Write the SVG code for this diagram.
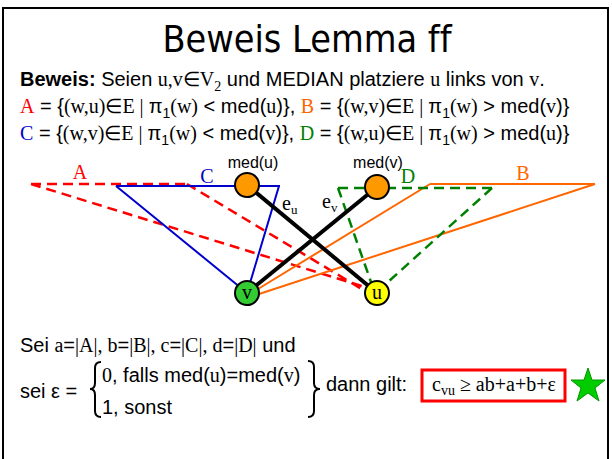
<svg xmlns="http://www.w3.org/2000/svg" width="612" height="459" viewBox="0 0 612 459">
<style>
.s{font-family:"Liberation Sans",Arial,sans-serif;font-size:20px;fill:#000}
.r{font-family:"Liberation Serif","Times New Roman",serif}
.lbl{font-family:"Liberation Serif","Times New Roman",serif;font-size:20px}
.ml{font-family:"Liberation Sans",Arial,sans-serif;font-size:16px;fill:#000}
.node{stroke:#000;stroke-width:2}
.red{stroke:#ff0000;stroke-width:2.5;stroke-dasharray:10,6;fill:none}
.blue{stroke:#0000cc;stroke-width:2;fill:none}
.orange{stroke:#ff6600;stroke-width:2;fill:none}
.green{stroke:#008000;stroke-width:2.5;stroke-dasharray:10,6;fill:none}
.black{stroke:#000;stroke-width:4}
.title{font-family:"DejaVu Sans",sans-serif;font-size:38px;font-variant-ligatures:none;font-feature-settings:"liga" 0}
</style>
<rect x="0" y="0" width="612" height="459" fill="#fff"/>
<path d="M3,470 V8 H608 V470" fill="none" stroke="#000" stroke-width="2"/>
<text class="title" x="307" y="52" text-anchor="middle" textLength="289" lengthAdjust="spacingAndGlyphs">Beweis Lemma ff</text>

<text class="s" x="20" y="86"><tspan font-weight="bold">Beweis:</tspan> Seien <tspan class="r">u,v∈V<tspan font-size="14" dy="5">2</tspan></tspan><tspan dy="-5"> und MEDIAN platziere </tspan><tspan class="r">u</tspan> links von <tspan class="r">v</tspan>.</text>
<text class="s" x="20" y="113"><tspan class="r" fill="#ff0000">A</tspan> = {<tspan class="r">(w,u)∈E | </tspan>π<tspan font-size="14" dy="5">1</tspan><tspan class="r" dy="-5">(w)</tspan> &lt; med(<tspan class="r">u</tspan>)}, <tspan class="r" fill="#ff6600">B</tspan> = {<tspan class="r">(w,v)∈E | </tspan>π<tspan font-size="14" dy="5">1</tspan><tspan class="r" dy="-5">(w)</tspan> &gt; med(<tspan class="r">v</tspan>)}</text>
<text class="s" x="20" y="140"><tspan class="r" fill="#0000cc">C</tspan> = {<tspan class="r">(w,v)∈E | </tspan>π<tspan font-size="14" dy="5">1</tspan><tspan class="r" dy="-5">(w)</tspan> &lt; med(<tspan class="r">v</tspan>)}, <tspan class="r" fill="#008000">D</tspan> = {<tspan class="r">(w,u)∈E | </tspan>π<tspan font-size="14" dy="5">1</tspan><tspan class="r" dy="-5">(w)</tspan> &gt; med(<tspan class="r">u</tspan>)}</text>

<g id="connectors">
<path class="red" d="M31,184 H187 M31,184 L365,287 M187,184 L365,291"/>
<path class="blue" d="M116,186 H280 M116,186 L241,288 M279,186 L250,283"/>
<path class="orange" d="M430,184 H595 M430,184 L258,289 M595,184 L259,294"/>
<path class="green" d="M338,188 H492 M338,188 L371,282 M492,188 L388,282"/>
<line class="black" x1="247" y1="185" x2="377" y2="293"/>
<line class="black" x1="377" y1="187" x2="247" y2="293"/>
</g>
<text class="lbl" x="80" y="179" text-anchor="middle" fill="#ff0000">A</text>
<text class="lbl" x="207" y="183" text-anchor="middle" fill="#0000cc">C</text>
<text class="lbl" x="523" y="180" text-anchor="middle" fill="#ff6600">B</text>
<text class="lbl" x="408" y="183" text-anchor="middle" fill="#008000">D</text>
<text class="lbl" x="282" y="210">e<tspan font-size="13" dy="4">u</tspan></text>
<text class="lbl" x="322" y="208">e<tspan font-size="13" dy="4">v</tspan></text>

<g id="med_u">
<circle class="node" cx="247" cy="185" r="12" fill="#ff9900"/>
<text class="ml" x="253" y="168" text-anchor="middle">med(u)</text>
</g>
<g id="med_v">
<circle class="node" cx="377" cy="187" r="12" fill="#ff9900"/>
<text class="ml" x="378" y="168" text-anchor="middle">med(v)</text>
</g>
<g id="v">
<circle class="node" cx="247" cy="293" r="12" fill="#33cc33"/>
<text class="lbl" x="247" y="299" text-anchor="middle">v</text>
</g>
<g id="u">
<circle class="node" cx="377" cy="293" r="12" fill="#ffff00"/>
<text class="lbl" x="377" y="299" text-anchor="middle">u</text>
</g>

<text class="s" x="20" y="352">Sei <tspan class="r">a</tspan>=<tspan class="r">|A|, b</tspan>=<tspan class="r">|B|, c</tspan>=<tspan class="r">|C|, d</tspan>=<tspan class="r">|D|</tspan> und</text>
<text class="s" x="20" y="398">sei ε =</text>
<path d="M101,362 Q95,362 95,368 L95,383 Q95,389 90,389 Q95,389 95,395 L95,411 Q95,417 101,417" fill="none" stroke="#000" stroke-width="2"/>
<text class="s" x="102" y="382"><tspan class="r">0</tspan>, falls med(<tspan class="r">u</tspan>)=med(<tspan class="r">v</tspan>)</text>
<text class="s" x="102" y="414">1, sonst</text>
<path d="M308,361 Q314,361 314,367 L314,383 Q314,389 320,389 Q314,389 314,395 L314,411 Q314,417 308,417" fill="none" stroke="#000" stroke-width="2"/>
<text class="s" x="326" y="391">dann gilt:</text>
<rect x="422" y="370" width="143" height="31" fill="none" stroke="#ff0000" stroke-width="3"/>
<text class="lbl" x="432" y="391">c<tspan font-size="14" dy="4">vu</tspan><tspan dy="-4"> ≥ ab+a+b+ε</tspan></text>
<polygon points="588,368 592,380 605,380 595,388 599,401 588,393 577,401 581,388 571,380 584,380" fill="#00cc00" stroke="#009900" stroke-width="1"/>
</svg>
